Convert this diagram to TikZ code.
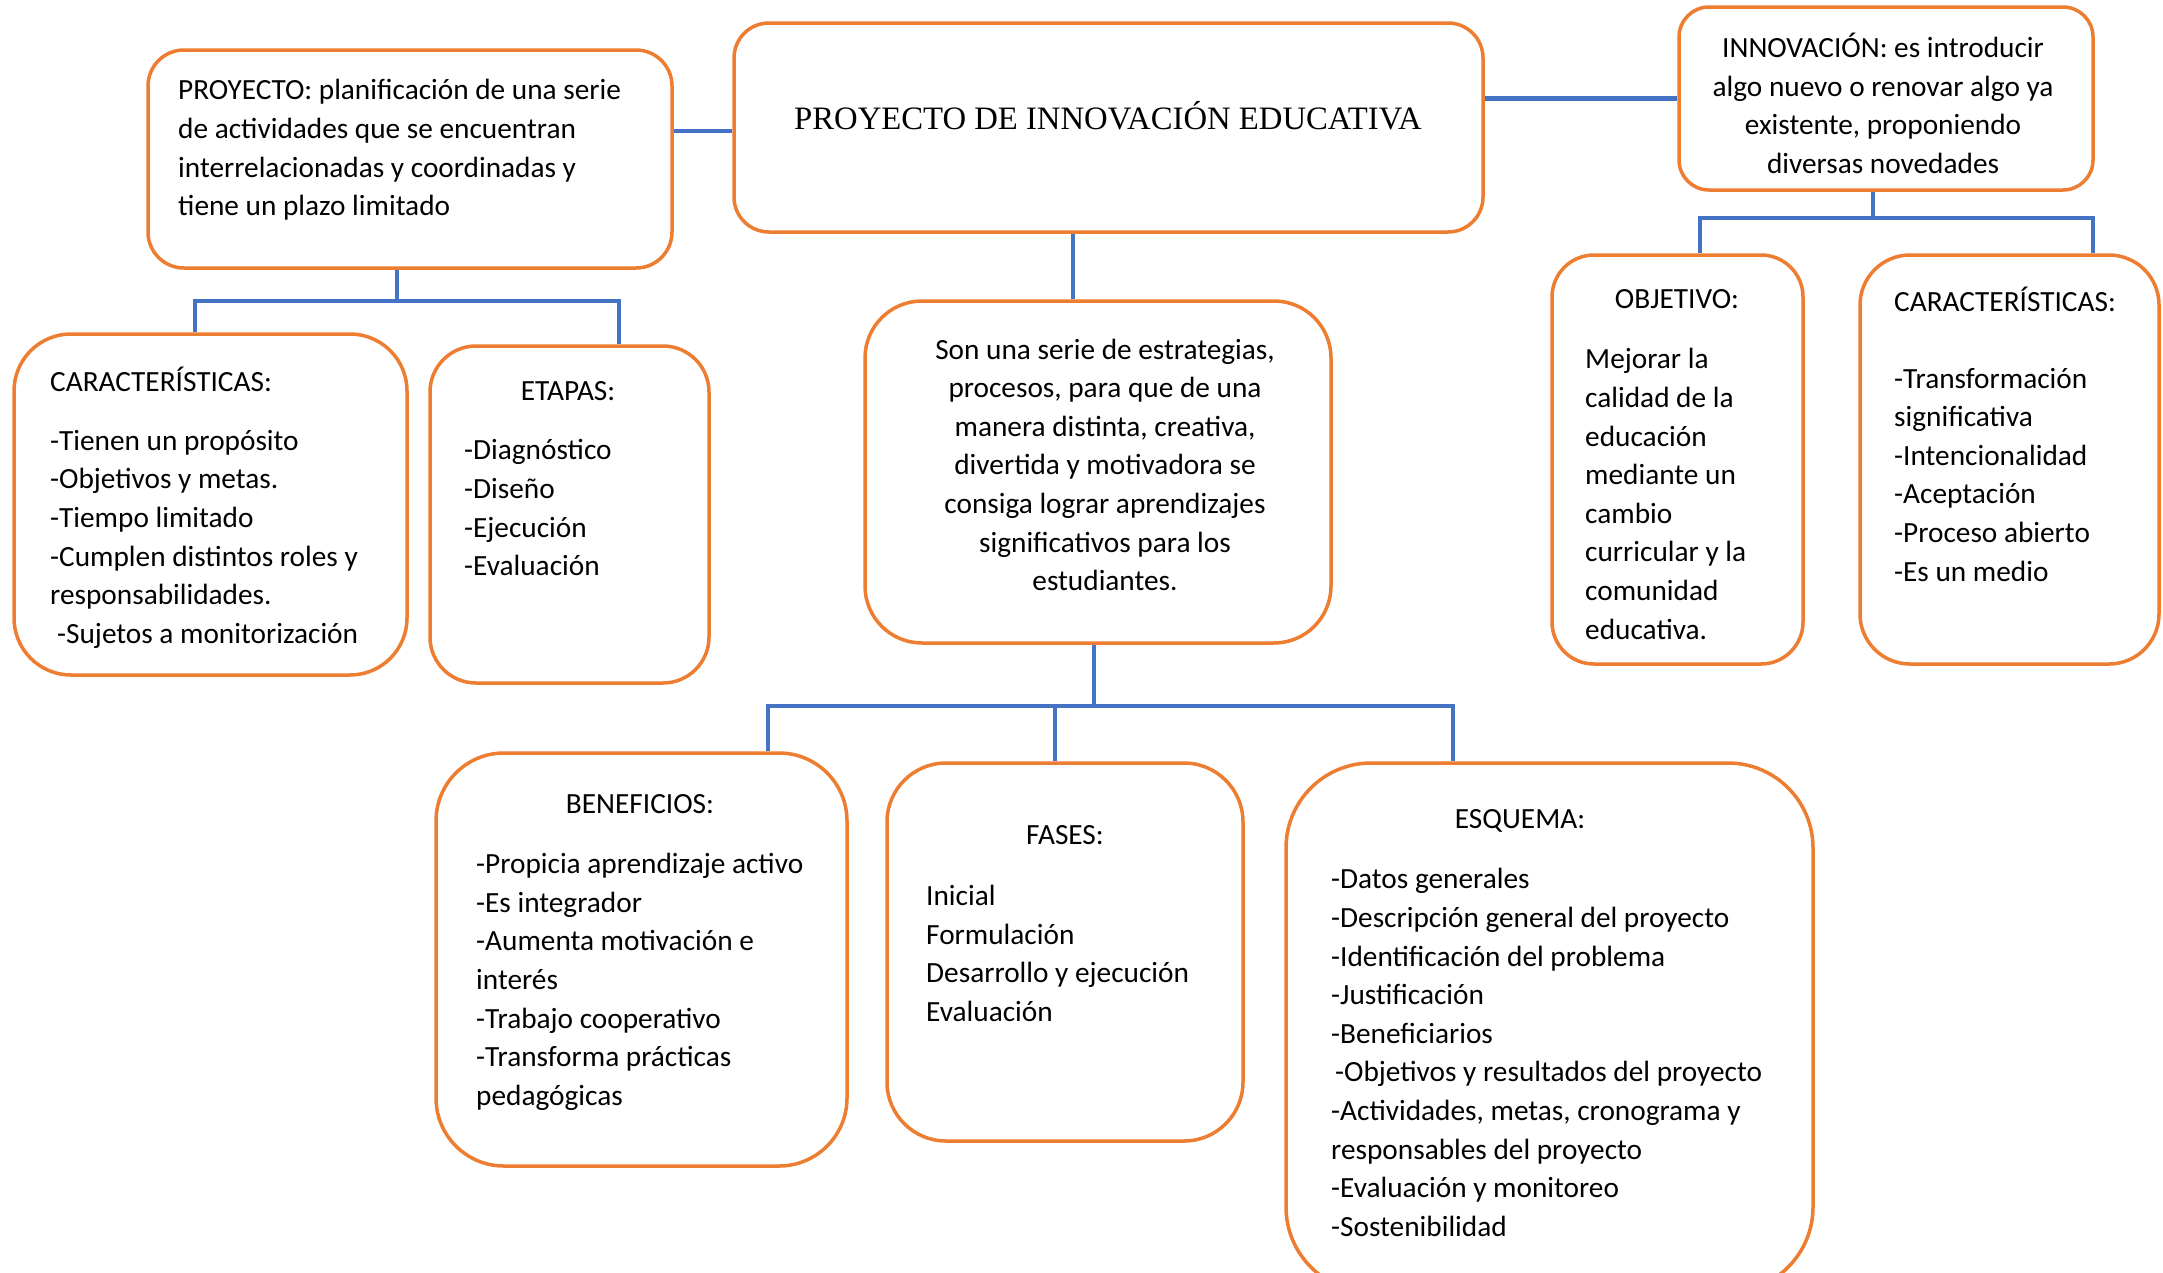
\documentclass[tikz,border=0pt]{standalone}
\usepackage{fontspec}
\setmainfont{Carlito}
\newfontfamily\titlefont{Liberation Serif}
\definecolor{orng}{HTML}{ED7D31}
\definecolor{blu}{HTML}{4472C4}
\newcommand\bodyf{\fontsize{29.3pt}{38.6pt}\selectfont}
\newcommand\st{\rule{0pt}{24pt}}
\tikzset{
  bx/.style={draw=orng, line width=3.5pt, rounded corners=#1, inner sep=0pt, fill=white},
  lnk/.style={draw=blu, line width=4.5pt},
  txtL/.style={inner sep=0pt, anchor=north west, align=left, font=\bodyf, yshift=-3pt},
  txtC/.style={inner sep=0pt, anchor=north, align=center, font=\bodyf, yshift=-3pt},
}
\begin{document}
\begin{tikzpicture}[x=1pt,y=-1pt]
\useasboundingbox[fill=white] (0,0) rectangle (2163,1272);
\clip (0,0) rectangle (2163,1272);
% boxes
\node[bx=35pt, minimum width=749pt, minimum height=209pt] (main) at (1108.5,127.5) {};
\node[bx=36pt, minimum width=524pt, minimum height=218pt] (proy) at (410,159) {};
\node[bx=30pt, minimum width=414pt, minimum height=183pt] (innov) at (1886,98.5) {};
\node[bx=57pt, minimum width=393pt, minimum height=341pt] (carL) at (210.5,504.5) {};
\node[bx=46pt, minimum width=279pt, minimum height=337pt] (etapas) at (569.5,514.5) {};
\node[bx=57pt, minimum width=466pt, minimum height=342pt] (cen) at (1098,472) {};
\node[bx=42pt, minimum width=251pt, minimum height=409pt] (obj) at (1677.5,459.5) {};
\node[bx=50pt, minimum width=299pt, minimum height=409pt] (carR) at (2009.5,459.5) {};
\node[bx=68pt, minimum width=411pt, minimum height=413pt] (benef) at (641.5,959.5) {};
\node[bx=59pt, minimum width=356pt, minimum height=378pt] (fases) at (1065,952) {};
\node[bx=85pt, minimum width=527pt, minimum height=529pt] (esq) at (1549.5,1027.5) {};
% connectors
\draw[lnk] ([yshift=28pt]proy.east) -- ([yshift=28pt]proy.east -| main.west);
\draw[lnk] (innov.west -| main.east) -- (innov.west);
\coordinate (pj) at (397,301);
\coordinate (pa) at (195,301);
\coordinate (pb) at (619,301);
\draw[lnk] (proy.south -| pj) -- (pj);
\draw[lnk] (pa |- carL.north) -- (pa) -- (pb) -- (pb |- etapas.north);
\draw[lnk] ([xshift=-35.5pt]main.south) -- ([xshift=-35.5pt]main.south |- cen.north);
\coordinate (cj) at (1094,706);
\coordinate (ca) at (768,706);
\coordinate (cb) at (1055,706);
\coordinate (cc) at (1453,706);
\draw[lnk] (cen.south -| cj) -- (cj);
\draw[lnk] (ca |- benef.north) -- (ca) -- (cc) -- (cc |- esq.north);
\draw[lnk] (cb) -- (cb |- fases.north);
\coordinate (ij) at (1873,218);
\coordinate (ia) at (1700,218);
\coordinate (ib) at (2093,218);
\draw[lnk] (innov.south -| ij) -- (ij);
\draw[lnk] (ia |- obj.north) -- (ia) -- (ib) -- (ib |- carR.north);
% texts
\node[inner sep=0pt, anchor=base, font=\titlefont\fontsize{32.7pt}{38pt}\selectfont] (tmain) at (1108,129) {PROYECTO DE INNOVACIÓN EDUCATIVA};
\node[txtL] (tproy) at (178,72.6) {\st PROYECTO: planificación de una serie\\de actividades que se encuentran\\interrelacionadas y coordinadas y\\tiene un plazo limitado};
\node[txtC] (tinnov) at (1883,30) {\st INNOVACIÓN: es introducir\\algo nuevo o renovar algo ya\\existente, proponiendo\\diversas novedades};
\node[txtL] (hcarL) at (50,363.6) {\st CARACTERÍSTICAS:};
\node[txtL] (tcarL) at (50,423) {\st -Tienen un propósito\\-Objetivos y metas.\\-Tiempo limitado\\-Cumplen distintos roles y\\responsabilidades.\\\hspace*{7pt}-Sujetos a monitorización};
\node[txtC] (hetapas) at (568,373) {\st ETAPAS:};
\node[txtL] (tetapas) at (464,432.6) {\st -Diagnóstico\\-Diseño\\-Ejecución\\-Evaluación};
\node[txtC] (tcen) at (1105,331.9) {\st Son una serie de estrategias,\\procesos, para que de una\\manera distinta, creativa,\\divertida y motivadora se\\consiga lograr aprendizajes\\significativos para los\\estudiantes.};
\node[txtC] (hobj) at (1677,280.9) {\st OBJETIVO:};
\node[txtL] (tobj) at (1585,341.6) {\st Mejorar la\\calidad de la\\educación\\mediante un\\cambio\\curricular y la\\comunidad\\educativa.};
\node[txtL] (hcarR) at (1894,283.6) {\st CARACTERÍSTICAS:};
\node[txtL] (tcarR) at (1894,360.9) {\st -Transformación\\significativa\\-Intencionalidad\\-Aceptación\\-Proceso abierto\\-Es un medio};
\node[txtC] (hbenef) at (640,785.8) {\st BENEFICIOS:};
\node[txtL] (tbenef) at (476,846.5) {\st -Propicia aprendizaje activo\\-Es integrador\\-Aumenta motivación e\\interés\\-Trabajo cooperativo\\-Transforma prácticas\\pedagógicas};
\node[txtC] (hfases) at (1065,817.5) {\st FASES:};
\node[txtL] (tfases) at (926,878.2) {\st Inicial\\Formulación\\Desarrollo y ejecución\\Evaluación};
\node[txtC] (hesq) at (1520,801) {\st ESQUEMA:};
\node[txtL] (tesq) at (1331,861.6) {\st -Datos generales\\-Descripción general del proyecto\\-Identificación del problema\\-Justificación\\-Beneficiarios\\\hspace*{4pt}-Objetivos y resultados del proyecto\\-Actividades, metas, cronograma y\\responsables del proyecto\\-Evaluación y monitoreo\\-Sostenibilidad};
\end{tikzpicture}
\end{document}
